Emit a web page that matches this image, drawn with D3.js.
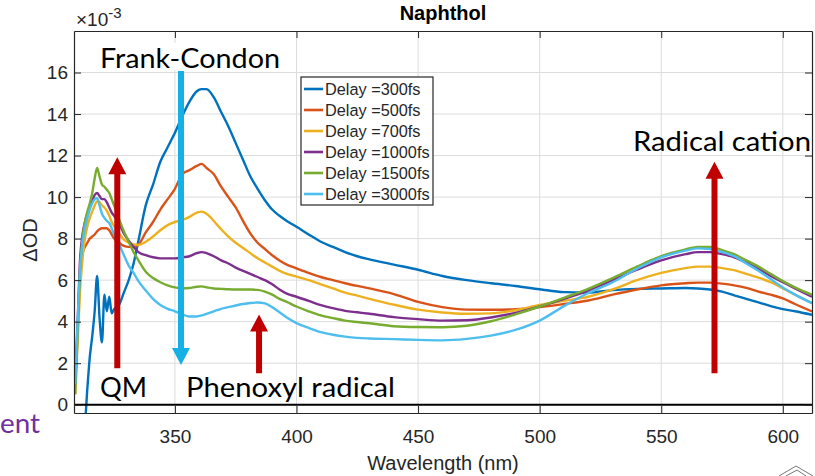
<!DOCTYPE html>
<html>
<head>
<meta charset="utf-8">
<script src="https://cdn.jsdelivr.net/npm/d3@7"></script>
<style>
  body { margin: 0; background: #fff; }
  svg { display: block; }
</style>
</head>
<body>
<div id="chart"></div>
<script>
const width = 815;
const height = 476;
const margin = {top: 31, right: 3, bottom: 63, left: 74};

// wavelength grid (nm) shared by every delay trace
const wavelengths = [309, 310, 311, 312, 313, 314, 315, 316, 317, 318, 319, 320, 321, 322, 323, 324, 325, 327, 329, 331, 333, 335, 338, 341, 344, 347, 350, 353, 356, 359, 361, 363, 366, 369, 372, 375, 378, 381, 384, 387, 390, 393, 396, 400, 405, 410, 415, 420, 425, 430, 440, 450, 460, 470, 480, 490, 500, 510, 520, 530, 540, 550, 560, 565, 570, 575, 580, 585, 590, 595, 600, 605, 612];

// ΔOD in units of 1e-3
const delay300 = [-1, -1, -1, -1, -0.8, 0.8, 2.3, 3.3, 4.5, 6.2, 4.2, 3.0, 5.3, 4.5, 5.2, 4.4, 4.6, 4.8, 5.4, 6.0, 6.8, 7.9, 9.6, 10.6, 11.7, 12.4, 13.1, 13.9, 14.6, 15.1, 15.2, 15.2, 14.8, 14.1, 13.4, 12.6, 11.8, 11.0, 10.4, 9.85, 9.4, 9.1, 8.85, 8.57, 8.2, 7.85, 7.6, 7.35, 7.15, 7.0, 6.75, 6.5, 6.2, 6.0, 5.85, 5.72, 5.56, 5.42, 5.4, 5.52, 5.58, 5.6, 5.62, 5.6, 5.55, 5.45, 5.27, 5.1, 4.93, 4.75, 4.6, 4.5, 4.33];
const delay500 = [1.0, 3.5, 6.0, 7.3, 7.6, 7.8, 8.0, 8.1, 8.2, 8.35, 8.45, 8.5, 8.5, 8.5, 8.4, 8.2, 8.0, 7.8, 7.65, 7.6, 7.6, 7.7, 8.3, 8.8, 9.4, 9.9, 10.4, 11.1, 11.3, 11.5, 11.6, 11.4, 11.1, 10.5, 10.0, 9.5, 8.85, 8.25, 7.8, 7.5, 7.2, 6.95, 6.75, 6.57, 6.35, 6.15, 6.0, 5.85, 5.72, 5.6, 5.33, 4.95, 4.7, 4.58, 4.57, 4.6, 4.7, 4.85, 5.02, 5.3, 5.55, 5.75, 5.85, 5.88, 5.88, 5.83, 5.75, 5.63, 5.45, 5.3, 5.12, 4.85, 4.49];
const delay700 = [0.5, 3.0, 5.5, 7.0, 8.0, 8.6, 9.0, 9.3, 9.6, 9.8, 9.75, 9.6, 9.5, 9.35, 9.1, 8.8, 8.6, 8.25, 7.95, 7.8, 7.72, 7.7, 7.85, 8.1, 8.4, 8.65, 8.8, 8.9, 9.05, 9.25, 9.3, 9.2, 8.85, 8.45, 8.1, 7.8, 7.55, 7.3, 7.05, 6.85, 6.65, 6.45, 6.3, 6.17, 6.0, 5.8, 5.6, 5.4, 5.25, 5.1, 4.82, 4.58, 4.44, 4.38, 4.4, 4.55, 4.8, 5.0, 5.2, 5.55, 6.0, 6.35, 6.58, 6.65, 6.65, 6.58, 6.48, 6.3, 6.12, 5.9, 5.6, 5.3, 4.89];
const delay1000 = [1.0, 4.0, 7.0, 8.2, 8.8, 9.2, 9.5, 9.8, 10.1, 10.2, 10.05, 9.9, 9.9, 9.75, 9.5, 9.25, 9.1, 8.75, 8.25, 7.9, 7.6, 7.35, 7.2, 7.1, 7.05, 7.05, 7.05, 7.1, 7.15, 7.3, 7.35, 7.3, 7.15, 6.95, 6.8, 6.6, 6.45, 6.3, 6.15, 6.0, 5.8, 5.55, 5.35, 5.2, 5.0, 4.8, 4.65, 4.52, 4.45, 4.38, 4.22, 4.12, 4.05, 4.07, 4.2, 4.42, 4.73, 5.1, 5.5, 6.0, 6.5, 6.95, 7.25, 7.35, 7.35, 7.25, 7.1, 6.85, 6.55, 6.2, 5.9, 5.6, 5.2];
const delay1500 = [0.5, 3.5, 6.5, 8.0, 8.8, 9.3, 9.7, 10.2, 10.9, 11.4, 11.0, 10.6, 10.5, 10.35, 10.2, 9.9, 9.6, 8.95, 8.35, 7.85, 7.35, 6.95, 6.4, 6.1, 5.9, 5.75, 5.65, 5.6, 5.62, 5.68, 5.7, 5.65, 5.6, 5.58, 5.56, 5.55, 5.55, 5.55, 5.53, 5.45, 5.3, 5.1, 4.95, 4.73, 4.5, 4.3, 4.17, 4.05, 3.98, 3.92, 3.78, 3.74, 3.73, 3.8, 4.02, 4.35, 4.73, 5.15, 5.58, 6.1, 6.65, 7.15, 7.48, 7.6, 7.6, 7.45, 7.25, 6.95, 6.65, 6.3, 5.95, 5.65, 5.29];
const delay3000 = [1.0, 4.0, 6.5, 7.8, 8.5, 9.0, 9.4, 9.7, 9.9, 9.95, 9.6, 9.2, 9.0, 8.85, 8.75, 8.5, 8.2, 7.75, 7.2, 6.7, 6.35, 5.95, 5.5, 5.1, 4.8, 4.62, 4.5, 4.35, 4.25, 4.25, 4.3, 4.38, 4.5, 4.62, 4.7, 4.78, 4.85, 4.9, 4.92, 4.88, 4.7, 4.45, 4.2, 3.93, 3.7, 3.5, 3.37, 3.28, 3.22, 3.19, 3.16, 3.12, 3.1, 3.17, 3.33, 3.6, 4.05, 4.75, 5.38, 5.9, 6.55, 7.1, 7.42, 7.53, 7.5, 7.35, 7.15, 6.8, 6.45, 6.05, 5.65, 5.3, 4.89];

const seriesNames = ["Delay =300fs", "Delay =500fs", "Delay =700fs", "Delay =1000fs", "Delay =1500fs", "Delay =3000fs"];
const seriesValues = [delay300, delay500, delay700, delay1000, delay1500, delay3000];
const seriesColors = ["#0072bd", "#d95319", "#edb120", "#7e2f8e", "#77ac30", "#4dbeee"];

const xTicks = [350, 400, 450, 500, 550, 600];
const yTicks = [0, 2, 4, 6, 8, 10, 12, 14, 16];

// slide overlay arrows, in data units (nm, 1e-3)
const arrowX = [352.5, 326.3, 384.6, 571.9];
const arrowFrom = [16.07, 1.75, 1.51, 1.51];
const arrowTo = [1.91, 11.92, 4.35, 11.7];
const arrowColors = ["#15b0e6", "#c00000", "#c00000", "#c00000"];

const svg = d3.select('#chart')
    .append('svg')
    .attr('width', width)
    .attr('height', height)
    .attr('viewBox', [0, 0, width, height]);

const x = d3.scaleLinear()
    .domain([308.5, 612])
    .range([margin.left, width - margin.right]);

const y = d3.scaleLinear()
    .domain([-0.4, 18])
    .range([height - margin.bottom, margin.top]);

const axisColor = "#262626";
const tickFont = "'Liberation Sans', Arial, sans-serif";

// grid
const grid = svg.append('g').attr('stroke', '#dcdcdc').attr('stroke-width', 1);
grid.selectAll('.gx').data(xTicks).enter().append('line')
    .attr('x1', d => x(d)).attr('x2', d => x(d))
    .attr('y1', y.range()[1]).attr('y2', y.range()[0]);
grid.selectAll('.gy').data(yTicks).enter().append('line')
    .attr('x1', x.range()[0]).attr('x2', x.range()[1])
    .attr('y1', d => y(d)).attr('y2', d => y(d));

// traces
svg.append('clipPath').attr('id', 'plot-clip')
    .append('rect')
    .attr('x', x.range()[0]).attr('y', y.range()[1])
    .attr('width', x.range()[1] - x.range()[0])
    .attr('height', y.range()[0] - y.range()[1]);

const line = d3.line()
    .x(d => x(d[0]))
    .y(d => y(d[1]))
    .curve(d3.curveMonotoneX);

svg.append('g')
    .attr('clip-path', 'url(#plot-clip)')
    .selectAll('path')
    .data(seriesValues)
    .enter()
    .append('path')
        .attr('d', vals => line(wavelengths.map((w, i) => [w, vals[i]])))
        .attr('fill', 'none')
        .attr('stroke', (d, i) => seriesColors[i])
        .attr('stroke-width', 2.4)
        .attr('stroke-linejoin', 'round');

// zero reference line
svg.append('line')
    .attr('x1', x.range()[0]).attr('x2', x.range()[1])
    .attr('y1', y(0)).attr('y2', y(0))
    .attr('stroke', '#000').attr('stroke-width', 2);

// axes, ticks inside on all four sides
function styleAxis(g){
    g.select('.domain').attr('stroke', axisColor).attr('stroke-width', 1.2);
    g.selectAll('.tick line').attr('stroke', axisColor);
    g.selectAll('.tick text').attr('fill', axisColor);
    g.attr('font-family', tickFont).attr('font-size', 19);
}

svg.append('g')
    .attr('transform', `translate(0, ${y.range()[0]})`)
    .call(d3.axisBottom(x).tickValues(xTicks).tickSizeInner(-7).tickSizeOuter(0).tickPadding(17))
    .call(styleAxis);
svg.append('g')
    .attr('transform', `translate(0, ${y.range()[1]})`)
    .call(d3.axisTop(x).tickValues(xTicks).tickSizeInner(-7).tickSizeOuter(0).tickFormat(''))
    .call(styleAxis);
svg.append('g')
    .attr('transform', `translate(${x.range()[0]}, 0)`)
    .call(d3.axisLeft(y).tickValues(yTicks).tickSizeInner(-7).tickSizeOuter(0).tickPadding(6))
    .call(styleAxis);
svg.append('g')
    .attr('transform', `translate(${x.range()[1]}, 0)`)
    .call(d3.axisRight(y).tickValues(yTicks).tickSizeInner(-7).tickSizeOuter(0).tickFormat(''))
    .call(styleAxis);

// exponent, title, labels
const expo = svg.append('text')
    .attr('x', 76).attr('y', 26)
    .attr('font-family', tickFont).attr('font-size', 19)
    .attr('fill', axisColor);
expo.append('tspan').text('\u00d710');
expo.append('tspan').attr('dy', -8).attr('font-size', 15).text('-3');

svg.append('text')
    .attr('x', (x.range()[0] + x.range()[1]) / 2).attr('y', 20)
    .attr('text-anchor', 'middle')
    .attr('font-family', tickFont).attr('font-size', 20).attr('font-weight', 'bold')
    .attr('fill', '#000')
    .text('Naphthol');

svg.append('text')
    .attr('x', (x.range()[0] + x.range()[1]) / 2).attr('y', 470)
    .attr('text-anchor', 'middle')
    .attr('font-family', tickFont).attr('font-size', 20)
    .attr('fill', axisColor)
    .text('Wavelength (nm)');

svg.append('text')
    .attr('transform', 'translate(37, 240) rotate(-90)')
    .attr('text-anchor', 'middle')
    .attr('font-family', tickFont).attr('font-size', 20)
    .attr('fill', axisColor)
    .text('\u0394OD');

// legend
const legend = svg.append('g').attr('transform', 'translate(301, 77)');
legend.append('rect')
    .attr('width', 132).attr('height', 128)
    .attr('fill', '#fff').attr('stroke', axisColor).attr('stroke-width', 1.2);
const item = legend.selectAll('.item')
    .data(seriesNames)
    .enter().append('g')
    .attr('transform', (d, i) => `translate(0, ${12 + i * 21})`);
item.append('line')
    .attr('x1', 3).attr('x2', 22)
    .attr('stroke', (d, i) => seriesColors[i]).attr('stroke-width', 2.6);
item.append('text')
    .attr('x', 24).attr('dy', '0.36em')
    .attr('font-family', tickFont).attr('font-size', 16.3)
    .attr('fill', axisColor)
    .text(d => d);

// slide overlay: white box behind the top callout, arrows, callouts
svg.append('rect')
    .attr('x', 97).attr('y', 43).attr('width', 198).attr('height', 27)
    .attr('fill', '#fff');

const arrows = svg.append('g');
arrowX.forEach((ax, i) => {
    const cx = x(ax), y0 = y(arrowFrom[i]), y1 = y(arrowTo[i]);
    const dir = y1 > y0 ? 1 : -1;
    const head = 17, half = 9, shaft = 3;
    const yb = y1 - dir * head;
    arrows.append('path')
        .attr('d', `M${cx - shaft},${y0} L${cx + shaft},${y0} L${cx + shaft},${yb} L${cx + half},${yb} L${cx},${y1} L${cx - half},${yb} L${cx - shaft},${yb} Z`)
        .attr('fill', arrowColors[i]);
});

const calloutFont = "Lato, 'Open Sans', sans-serif";
function callout(txt, px, py, len, color){
    svg.append('text')
        .attr('x', px).attr('y', py)
        .attr('font-family', calloutFont).attr('font-size', 26)
        .attr('fill', color || '#000')
        .attr('textLength', len).attr('lengthAdjust', 'spacingAndGlyphs')
        .text(txt);
}
callout('Frank-Condon', 100, 68, 180);
callout('QM', 100, 397, 47);
callout('Phenoxyl radical', 186, 397, 209);
callout('Radical cation', 633, 151, 178);
callout('ent', 0, 433, 40, '#7030a0');

// corner glyph from the slide
svg.append('path')
    .attr('d', 'M779,476 L796,466 L813,476 M786,476 L797,470 L806,476')
    .attr('fill', 'none').attr('stroke', '#777').attr('stroke-width', 1);
</script>
</body>
</html>
